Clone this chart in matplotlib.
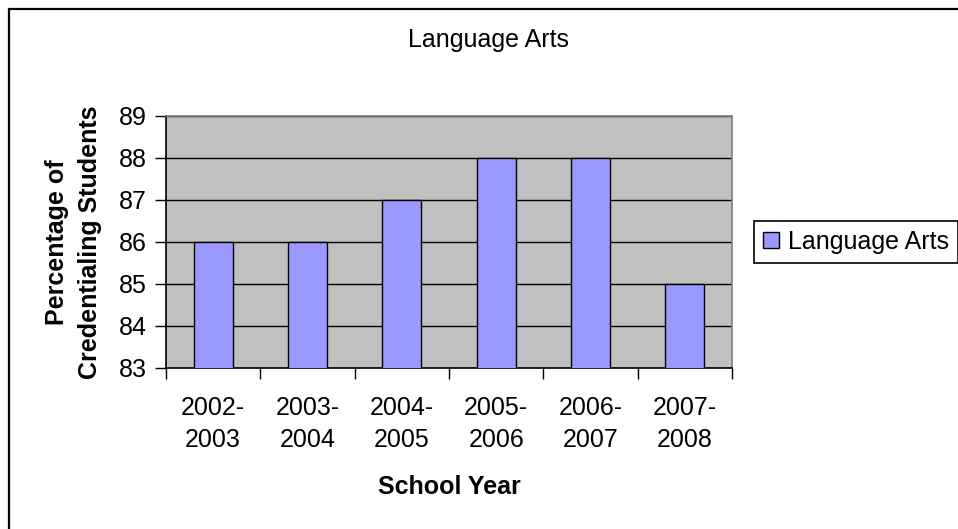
#!/usr/bin/env python3

import matplotlib
matplotlib.use("Agg")
import matplotlib.pyplot as plt
from matplotlib.patches import Rectangle

years = ['2002-\n2003', '2003-\n2004', '2004-\n2005', '2005-\n2006', '2006-\n2007', '2007-\n2008']
values = [86, 86, 87, 88, 88, 85]
series_name = 'Language Arts'

plt.rcParams['font.family'] = ['Liberation Sans', 'DejaVu Sans']
plt.rcParams['font.size'] = 18

W, H = 958, 529
fig = plt.figure(figsize=(W / 100, H / 100), dpi=100)
ax = fig.add_axes([166 / W, 1 - 368 / H, 566 / W, 252 / H])

# outer chart border (right/bottom edges fall outside the picture)
fig.patches.append(Rectangle((8.5 / W, -0.1), 1.2, 1.1 - 8.5 / H, transform=fig.transFigure,
                             fill=False, edgecolor='black', linewidth=1.6))

ax.set_facecolor('#C0C0C0')
x = range(len(values))
ax.bar(x, values, width=0.41, bottom=0, color='#9999FF', edgecolor='black',
       linewidth=1.0, label=series_name, zorder=3)

ax.set_ylim(83, 89)
ax.set_xlim(-0.5, len(values) - 0.5)
ax.set_yticks(range(83, 90))
ax.yaxis.grid(True, color='black', linewidth=1.0, zorder=1)
ax.set_axisbelow(True)

ax.set_xticks([i - 0.5 for i in range(len(values) + 1)])
ax.set_xticklabels([])
ax.set_xticks(list(x), minor=True)
ax.set_xticklabels(years, minor=True, linespacing=1.45)
ax.tick_params(axis='x', which='minor', length=0, pad=20)
ax.tick_params(axis='x', which='major', length=8, width=1, direction='out')
ax.tick_params(axis='y', length=8, width=1, direction='out', pad=6)

for s in ['top', 'right']:
    ax.spines[s].set_color('#808080')
    ax.spines[s].set_linewidth(1.2)
ax.spines['left'].set_linewidth(1.2)
ax.spines['bottom'].set_linewidth(1.2)

ax.set_xlabel('School Year', fontweight='bold', labelpad=16)
ax.set_ylabel('Percentage of\nCredentialing Students', fontweight='bold',
              linespacing=1.45, labelpad=12)

fig.text(489 / W, 1 - 40 / H, 'Language Arts', ha='center', va='center')

leg = ax.legend(loc='upper left', bbox_to_anchor=(754 / W, 1 - 221 / H),
                bbox_transform=fig.transFigure, fancybox=False, shadow=False,
                borderaxespad=0, borderpad=0.35, handlelength=0.64, handleheight=0.56,
                handletextpad=0.36, framealpha=1)
leg.get_frame().set_edgecolor('black')
leg.get_frame().set_linewidth(1.2)

plt.savefig('out.png', dpi=100)
